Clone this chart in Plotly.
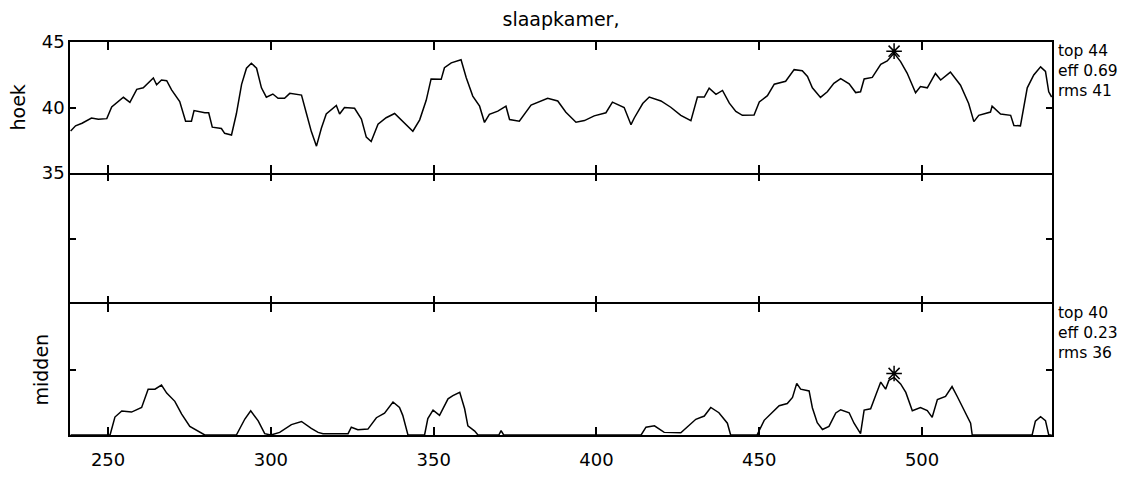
import plotly.graph_objects as go
from plotly.subplots import make_subplots

# ---- data ----
hoek_x = [238.5, 240.0, 242.0, 244.9, 247.0, 249.6, 251.1, 254.7, 256.7, 258.8, 260.8, 263.9, 264.9,
          266.4, 268.0, 269.5, 272.0, 273.8, 275.6, 276.4, 279.7, 280.9, 282.0, 284.8, 285.8, 287.9,
          289.4, 291.0, 292.5, 294.0, 295.6, 297.1, 298.6, 300.6, 302.2, 304.2, 305.8, 309.4, 310.9,
          312.4, 314.0, 315.5, 317.0, 320.1, 321.1, 322.6, 325.7, 327.8, 329.3, 330.8, 332.9, 335.4,
          338.0, 341.1, 343.6, 345.7, 347.7, 349.2, 352.3, 353.3, 355.4, 358.4, 360.0, 362.0, 364.1,
          365.6, 367.1, 369.7, 372.2, 373.3, 376.3, 379.9, 385.0, 388.1, 390.6, 393.7, 396.3, 399.3,
          402.9, 404.9, 408.5, 410.6, 411.6, 414.2, 416.2, 419.8, 422.8, 425.9, 429.0, 431.0, 433.1,
          434.6, 436.7, 438.7, 440.8, 442.8, 444.8, 448.4, 450.0, 452.5, 454.6, 458.1, 460.7, 463.2,
          464.8, 466.3, 468.8, 470.9, 472.9, 475.0, 477.6, 479.6, 481.1, 482.2, 484.7, 487.3, 489.3,
          491.4, 493.4, 495.4, 498.0, 499.5, 501.6, 504.1, 505.7, 508.7, 511.8, 514.3, 515.9, 517.4,
          521.0, 521.5, 524.1, 527.2, 528.2, 530.2, 532.3, 534.3, 536.4, 537.9, 538.9, 539.8]
hoek_y = [38.2, 38.6, 38.8, 39.2, 39.1, 39.15, 40.04, 40.78, 40.4, 41.39, 41.5, 42.25, 41.74,
          42.1, 42.05, 41.35, 40.46, 38.95, 38.95, 39.77, 39.6, 39.6, 38.5, 38.4, 38.03, 37.9,
          39.52, 41.77, 43.0, 43.38, 43.0, 41.5, 40.79, 41.03, 40.7, 40.7, 41.08, 40.95, 39.56,
          38.18, 37.05, 38.42, 39.5, 40.16, 39.5, 40.0, 39.94, 39.12, 37.74, 37.4, 38.73, 39.22,
          39.54, 38.82, 38.19, 39.06, 40.55, 42.18, 42.15, 43.04, 43.41, 43.65, 42.27, 40.87, 40.1,
          38.86, 39.48, 39.72, 40.1, 39.08, 38.95, 40.18, 40.71, 40.5, 39.64, 38.88, 39.0, 39.36,
          39.6, 40.41, 40.0, 38.69, 39.2, 40.3, 40.8, 40.5, 40.02, 39.4, 39.0, 40.8, 40.8,
          41.48, 41.0, 41.3, 40.33, 39.7, 39.4, 39.42, 40.42, 40.9, 41.78, 42.0, 42.89, 42.8,
          42.37, 41.5, 40.77, 41.2, 41.84, 42.2, 41.8, 41.14, 41.2, 42.18, 42.3, 43.3, 43.55,
          44.15, 43.5, 42.63, 41.12, 41.6, 41.5, 42.6, 42.1, 42.7, 41.7, 40.3, 38.92, 39.4,
          39.65, 40.1, 39.5, 39.4, 38.63, 38.6, 41.5, 42.48, 43.1, 42.75, 41.2, 40.8]

midden_x = [238.5, 250.6, 252.1, 254.2, 257.2, 260.3, 262.3, 264.4, 266.4, 268.0, 270.5, 272.6,
            275.1, 278.2, 279.7, 289.4, 292.0, 293.8, 296.1, 298.1, 300.0, 302.7, 306.3, 309.4,
            312.4, 314.5, 316.0, 323.7, 324.7, 326.7, 329.8, 332.4, 334.9, 337.5, 339.5, 340.5,
            342.1, 347.2, 348.2, 349.8, 351.8, 354.4, 355.9, 358.0, 359.5, 360.5, 362.6, 363.6,
            370.0, 370.7, 371.5, 413.7, 415.2, 417.8, 419.8, 420.8, 425.9, 427.4, 430.5, 433.1,
            435.1, 437.6, 440.2, 441.2, 449.3, 451.5, 453.5, 456.1, 458.6, 460.2, 461.5, 462.7,
            465.3, 466.3, 467.8, 469.4, 471.4, 473.5, 475.0, 477.6, 479.1, 481.1, 482.2, 484.2,
            485.7, 487.3, 488.8, 489.8, 491.4, 493.4, 495.0, 497.0, 499.5, 501.6, 503.1, 504.7,
            507.2, 509.2, 510.8, 512.8, 514.9, 515.4, 533.8, 534.8, 536.4, 537.9, 538.9, 539.8]
midden_y = [35.0, 35.0, 36.37, 36.83, 36.75, 37.1, 38.5, 38.5, 38.81, 38.2, 37.57, 36.6,
            35.65, 35.25, 35.0, 35.0, 36.22, 36.85, 36.08, 35.1, 35.0, 35.2, 35.79, 36.03,
            35.5, 35.2, 35.1, 35.1, 35.59, 35.4, 35.45, 36.32, 36.67, 37.52, 37.1, 36.5,
            35.0, 35.0, 36.26, 36.9, 36.5, 37.76, 38.0, 38.26, 37.0, 35.7, 35.3, 35.0,
            35.0, 35.34, 35.0, 35.0, 35.6, 35.7, 35.4, 35.2, 35.17, 35.5, 36.2, 36.45,
            37.1, 36.7, 35.9, 35.0, 35.0, 36.12, 36.6, 37.24, 37.4, 37.87, 38.94, 38.5,
            38.36, 37.08, 35.94, 35.42, 35.66, 36.68, 36.93, 36.7, 35.9, 35.1, 36.9, 37.0,
            38.0, 39.04, 38.5, 39.17, 39.4, 38.9, 38.25, 36.85, 37.1, 36.86, 36.35, 37.7,
            37.95, 38.7, 37.94, 36.9, 35.9, 35.0, 35.0, 36.06, 36.4, 36.1, 35.0, 35.0]

peak_x = [491.4, 491.4]
peak_y = [44.3, 39.7]

panel_names = ["hoek", "", "midden"]
panel_stats = ["top 44<br>eff 0.69<br>rms 41", "", "top 40<br>eff 0.23<br>rms 36"]

x_ticks = [250, 300, 350, 400, 450, 500]
y_ticks = [35, 40, 45]
x_range = [238.3, 539.9]
y_range = [35, 45]

FONT = "DejaVu Sans"

fig = make_subplots(rows=3, cols=1, vertical_spacing=0)

line_style = dict(color="black", width=1.5)
fig.add_trace(go.Scatter(x=hoek_x, y=hoek_y, mode="lines", line=line_style,
                         showlegend=False), row=1, col=1)
# middle panel: no values inside its range, an empty trace keeps its axes drawn
fig.add_trace(go.Scatter(x=[x_range[0]], y=[None], mode="lines", line=line_style,
                         showlegend=False, hoverinfo="skip"), row=2, col=1)
fig.add_trace(go.Scatter(x=midden_x, y=midden_y, mode="lines", line=line_style,
                         showlegend=False), row=3, col=1)
star = dict(symbol="asterisk-open", size=13, color="black",
            line=dict(color="black", width=1.5))
fig.add_trace(go.Scatter(x=[peak_x[0]], y=[peak_y[0]], mode="markers", marker=star,
                         showlegend=False, cliponaxis=False), row=1, col=1)
fig.add_trace(go.Scatter(x=[peak_x[1]], y=[peak_y[1]], mode="markers", marker=star,
                         showlegend=False, cliponaxis=False), row=3, col=1)

for r in (1, 2, 3):
    fig.update_xaxes(range=x_range, tickvals=x_ticks, ticks="inside", ticklen=8,
                     tickwidth=2, tickcolor="black", showline=True,
                     linecolor=("black" if r != 2 else "rgba(0,0,0,0)"),
                     linewidth=1.6, mirror="ticks", showgrid=False, zeroline=False,
                     showticklabels=(r == 3), ticklabelstandoff=8,
                     tickfont=dict(family=FONT, size=18, color="black"), row=r, col=1)
    fig.update_yaxes(range=y_range, tickvals=y_ticks, ticks="inside", ticklen=6,
                     tickwidth=1.5, tickcolor="black", showline=True, linecolor="black",
                     linewidth=1.6, mirror="ticks", showgrid=False, zeroline=False,
                     showticklabels=(r == 1),
                     tickfont=dict(family=FONT, size=18, color="black"), row=r, col=1)

annotations = []
name_shift = {0: -53, 2: -30}
for i, name in enumerate(panel_names):
    yref = "y domain" if i == 0 else f"y{i + 1} domain"
    if name:
        annotations.append(dict(text=name, xref="paper", yref=yref, x=0, y=0.5,
                                xanchor="center", yanchor="middle", xshift=name_shift[i],
                                textangle=-90, showarrow=False,
                                font=dict(family=FONT, size=19, color="black")))
    if panel_stats[i]:
        annotations.append(dict(text=panel_stats[i], xref="paper", yref=yref, x=1, y=1,
                                xanchor="left", yanchor="top", xshift=4, yshift=2,
                                align="left", showarrow=False,
                                font=dict(family=FONT, size=15.5, color="black")))

fig.update_layout(
    width=1127, height=483,
    margin=dict(l=70, r=75, t=42, b=48),
    paper_bgcolor="white", plot_bgcolor="white",
    title=dict(text="slaapkamer,", x=0.5, xanchor="center", xref="paper",
               y=1 - 19 / 483, yref="container", yanchor="middle",
               font=dict(family=FONT, size=19, color="black")),
    annotations=annotations,
)

fig.write_html("out.html")
